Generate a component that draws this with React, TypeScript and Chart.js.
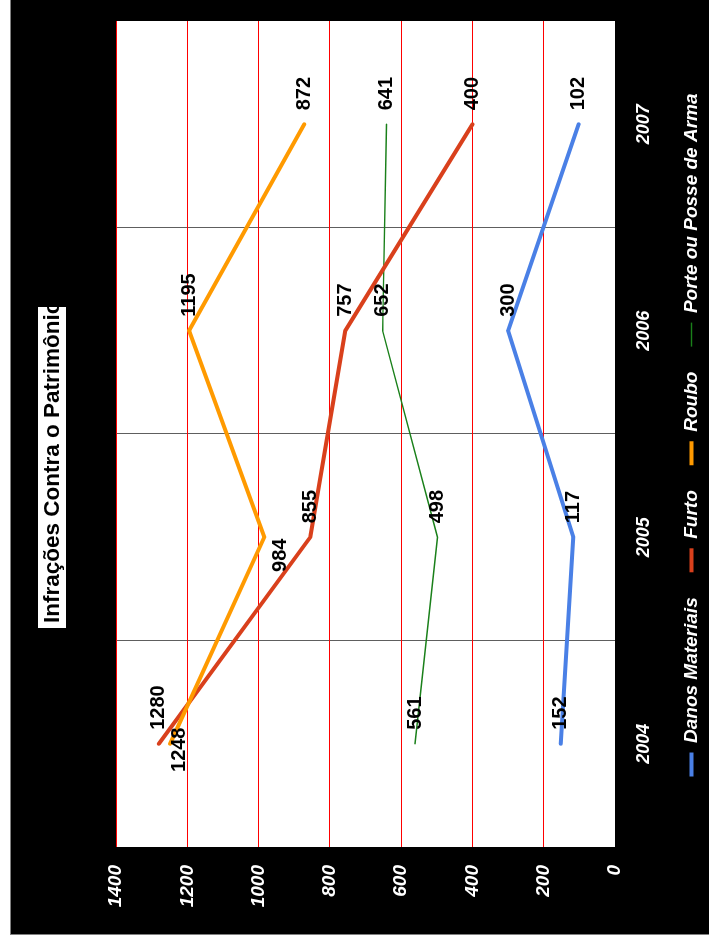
import React, { useEffect, useRef } from "react";
import { Chart, registerables } from "chart.js";

Chart.register(...registerables);

// ---- data ----
const categories = ["2004", "2005", "2006", "2007"];
const danosMateriais = [152, 117, 300, 102];
const furto = [1280, 855, 757, 400];
const roubo = [1248, 984, 1195, 872];
const porteArma = [561, 498, 652, 641];
const valueTicks = [0, 200, 400, 600, 800, 1000, 1200, 1400];
const seriesNames = ["Danos Materiais", "Furto", "Roubo", "Porte ou Posse de Arma"];
const chartTitle = "Infrações Contra o Patrimônio";

// ---- layout / style ----
const FONT = '"Liberation Sans", Arial, Helvetica, sans-serif';
const W = 1000;
const H = 720;

// per-label placement tweaks (datasetIndex-pointIndex)
const labelNudges: Record<string, { dx: number; dy: number; align: CanvasTextAlign }> = {
  "2-0": { dx: -6, dy: 9, align: "center" },
  "2-1": { dx: -18, dy: 16, align: "center" },
};

const plotBackground = {
  id: "plotBackground",
  beforeDraw(chart: any) {
    const { ctx, chartArea: a } = chart;
    ctx.save();
    ctx.fillStyle = "#ffffff";
    ctx.fillRect(a.left, a.top, a.right - a.left, a.bottom - a.top);
    ctx.restore();
  },
};

const valueLabels = {
  id: "valueLabels",
  afterDatasetsDraw(chart: any) {
    const ctx = chart.ctx;
    ctx.save();
    ctx.font = `bold 20px ${FONT}`;
    ctx.fillStyle = "#000000";
    ctx.textBaseline = "middle";
    chart.data.datasets.forEach((ds: any, di: number) => {
      const meta = chart.getDatasetMeta(di);
      meta.data.forEach((pt: any, i: number) => {
        const n = labelNudges[`${di}-${i}`];
        ctx.textAlign = n ? n.align : "left";
        const x = pt.x + (n ? n.dx : 14);
        const y = pt.y + (n ? n.dy : 0);
        ctx.fillText(String(ds.data[i]), x, y);
      });
    });
    ctx.restore();
  },
};

export default function App() {
  const ref = useRef<HTMLCanvasElement>(null);

  useEffect(() => {
    if (!ref.current) return;
    const mk = (label: string, data: number[], color: string, width: number, order: number) => ({
      label,
      data,
      borderColor: color,
      backgroundColor: color,
      borderWidth: width,
      pointRadius: 0,
      pointHoverRadius: 0,
      borderCapStyle: "round" as const,
      borderJoinStyle: "round" as const,
      tension: 0,
      fill: false,
      order,
    });
    const chart = new Chart(ref.current, {
      type: "line",
      data: {
        labels: categories,
        datasets: [
          mk(seriesNames[0], danosMateriais, "#4a80e6", 4, 0),
          mk(seriesNames[1], furto, "#d9401c", 4, 2),
          mk(seriesNames[2], roubo, "#ff9a00", 4, 1),
          mk(seriesNames[3], porteArma, "#1a801a", 1.4, 3),
        ],
      },
      options: {
        responsive: false,
        animation: false,
        devicePixelRatio: 1,
        layout: { padding: { left: 0, right: 0, top: 106, bottom: 19 } },
        plugins: {
          title: { display: false },
          tooltip: { enabled: false },
          legend: {
            position: "bottom",
            labels: {
              color: "#ffffff",
              font: { family: FONT, size: 19, weight: "bold", style: "italic" },
              usePointStyle: true,
              pointStyle: "line",
              pointStyleWidth: 24,
              padding: 25,
              sort: (a: any, b: any) => a.datasetIndex - b.datasetIndex,
            },
          },
        },
        scales: {
          x: {
            type: "category",
            offset: true,
            grid: {
              offset: true,
              drawTicks: false,
              lineWidth: 1,
              color: (c: any) => (c.type !== "tick" || c.index === 0 ? "rgba(0,0,0,0)" : "#5e5e5e"),
            },
            border: { display: false },
            ticks: {
              color: "#ffffff",
              font: { family: FONT, size: 18, weight: "bold", style: "italic" },
              padding: 18,
              maxRotation: 0,
              autoSkip: false,
            },
            afterFit: (s: any) => {
              s.height = 42;
            },
          },
          y: {
            type: "linear",
            min: 0,
            max: 1400,
            afterBuildTicks: (s: any) => {
              s.ticks = valueTicks.map((v) => ({ value: v }));
            },
            grid: {
              drawTicks: false,
              lineWidth: 1,
              color: (c: any) => (c.tick && c.tick.value === 0 ? "rgba(0,0,0,0)" : "#ff0000"),
            },
            border: { display: false },
            ticks: {
              color: "#ffffff",
              font: { family: FONT, size: 19, weight: "bold", style: "italic" },
              padding: 18,
              callback: (v: any) => String(v),
            },
            afterFit: (s: any) => {
              s.width = 88;
            },
          },
          yRight: {
            type: "linear",
            position: "right",
            display: true,
            grid: { display: false, drawTicks: false },
            border: { display: false },
            ticks: { display: false },
            afterFit: (s: any) => {
              s.width = 86;
            },
          },
        },
      },
      plugins: [plotBackground, valueLabels],
    } as any);
    return () => chart.destroy();
  }, []);

  return (
    <div
      style={{
        position: "fixed",
        left: 0,
        top: 0,
        width: 709,
        height: 941,
        overflow: "hidden",
        background: "#ffffff",
      }}
    >
      <div
        style={{
          position: "absolute",
          left: 0,
          top: 0,
          width: W,
          height: H,
          background: "#000000",
          transformOrigin: "0 0",
          transform: "translate(10px, 935px) rotate(-90deg)",
        }}
      >
        <canvas ref={ref} width={W} height={H} style={{ position: "absolute", left: 0, top: 0 }} />
        <div style={{ position: "absolute", left: 0, top: 0, width: W, height: 1, background: "#808080" }} />
        <div style={{ position: "absolute", left: 0, top: 0, width: 1, height: H, background: "#808080" }} />
        <div
          style={{
            position: "absolute",
            left: 307,
            top: 28,
            width: 316,
            height: 28,
            paddingLeft: 5,
            background: "#ffffff",
            color: "#000000",
            overflow: "hidden",
            whiteSpace: "nowrap",
            font: `bold 22.5px ${FONT}`,
            lineHeight: "28px",
          }}
        >
          {chartTitle}
        </div>
      </div>
    </div>
  );
}
